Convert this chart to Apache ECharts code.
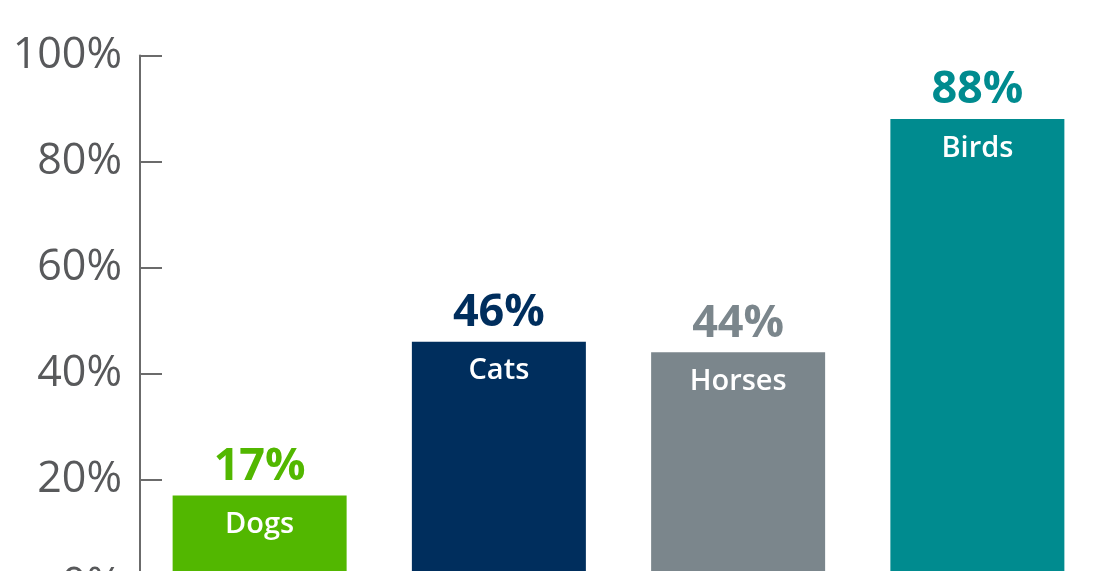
<!DOCTYPE html>
<html>
<head>
<meta charset="utf-8">
<script src="https://cdn.jsdelivr.net/npm/echarts@6/dist/echarts.min.js"></script>
<style>
html,body{margin:0;padding:0;background:#fff;}
#chart{width:1095px;height:571px;}
</style>
</head>
<body>
<div id="chart"></div>
<script>
const categories = ['Dogs', 'Cats', 'Horses', 'Birds'];
const values = [17, 46, 44, 88];
const barColors = ['#52b700', '#002e5d', '#7b868c', '#008b8f'];
const yTicks = [0, 20, 40, 60, 80, 100];

const chart = echarts.init(document.getElementById('chart'));
const fontFam = '"Open Sans", Lato, sans-serif';
chart.setOption({
  animation: false,
  grid: { left: 140, right: -2, top: 55.5, bottom: -14.5, containLabel: false, outerBoundsMode: 'none' },
  xAxis: {
    type: 'category',
    data: categories,
    axisLine: { show: false },
    axisTick: { show: false },
    axisLabel: { show: false }
  },
  yAxis: {
    type: 'value',
    min: yTicks[0],
    max: yTicks[yTicks.length - 1],
    interval: 20,
    axisLine: { show: true, lineStyle: { color: '#6b6b6b', width: 2 } },
    axisTick: { show: true, inside: true, length: 22, lineStyle: { color: '#6b6b6b', width: 2 } },
    splitLine: { show: false },
    axisLabel: {
      margin: 18,
      color: '#58595b',
      fontSize: 43,
      fontFamily: fontFam,
      formatter: v => v + '%'
    }
  },
  series: [
    {
      type: 'bar',
      barWidth: 174,
      data: values.map((v, i) => ({ value: v, itemStyle: { color: barColors[i] },
        label: { color: barColors[i] } })),
      label: {
        show: true,
        position: 'top',
        distance: 6,
        fontSize: 45,
        fontWeight: 'bold',
        fontFamily: fontFam,
        formatter: p => p.value + '%'
      }
    },
    {
      type: 'bar',
      barWidth: 174,
      barGap: '-100%',
      data: values,
      itemStyle: { color: 'rgba(0,0,0,0)' },
      silent: true,
      label: {
        show: true,
        position: 'insideTop',
        distance: 15,
        color: '#ffffff',
        fontSize: 29,
        fontWeight: 600,
        fontFamily: fontFam,
        formatter: p => categories[p.dataIndex]
      }
    }
  ]
});
</script>
</body>
</html>
